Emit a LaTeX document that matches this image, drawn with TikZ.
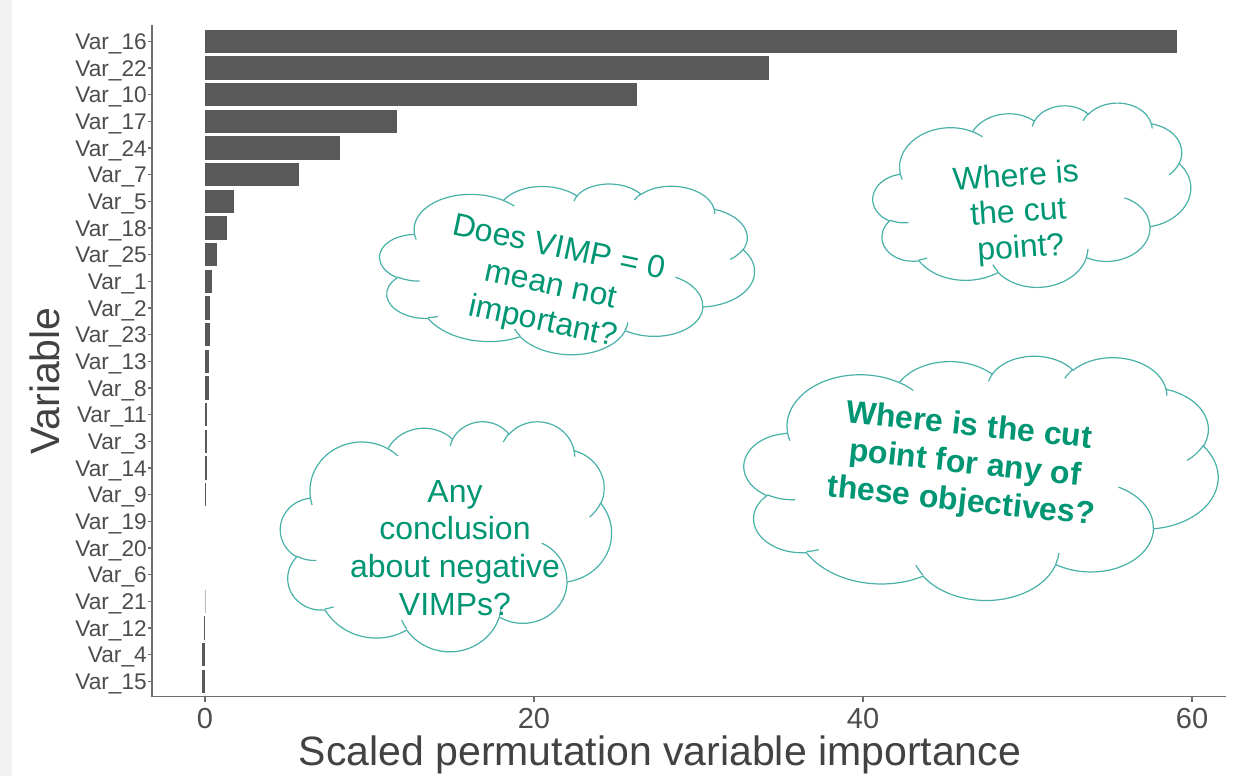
\documentclass[tikz,border=0pt]{standalone}
\usepackage{fontspec}
\setmainfont{Liberation Sans}
\definecolor{barc}{RGB}{89,89,89}
\definecolor{axisc}{RGB}{110,110,110}
\definecolor{axtext}{RGB}{77,77,77}
\definecolor{cloudc}{RGB}{72,178,168}
\definecolor{ctextc}{RGB}{0,150,116}
\definecolor{stripc}{RGB}{242,242,242}
\newcommand\carc[4]{arc[start angle={atan2((#1)*sin(#3),(#2)*cos(#3))}, delta angle={Mod(atan2((#1)*sin((#3)+(#4)),(#2)*cos((#3)+(#4)))-atan2((#1)*sin(#3),(#2)*cos(#3)),360)}, x radius=#1, y radius=#2]}
\newcommand\pptcloud[5]{%
\begin{scope}[shift={(#1,#2)}, rotate=#5, xscale=#3/432, yscale=#4/432, shift={(-216,-216)}]
\draw[cloudedge, fill=white] (39,143.7) \carc{67.53}{91.90}{-190.4875}{123.7805}
 \carc{53.33}{72.67}{-144.1024}{89.9452}
 \carc{43.65}{59.45}{-145.8079}{99.7230}
 \carc{48.57}{65.95}{-130.9861}{117.2417}
 \carc{53.33}{72.73}{-78.7089}{109.0269}
 \carc{67.75}{92.20}{-46.2673}{130.2690}
 \carc{57.85}{78.67}{0.6250}{114.0333}
 \carc{67.52}{92.15}{22.4516}{115.1726}
 \carc{77.20}{105.43}{66.2426}{75.7110}
 \carc{43.60}{59.18}{-274.9421}{146.7356}
 \carc{43.45}{59.45}{-246.8285}{152.5189} -- cycle;
\draw[cloudedge] (46.93,261.77) \carc{43.45}{59.45}{86.7420}{26.4295}
 (69.28,348.99) \carc{43.60}{59.18}{73.6105}{11.4475}
 (164.78,390.90) \carc{67.52}{92.15}{137.6242}{14.0811}
 (288.27,347.51) \carc{67.52}{92.15}{6.4533}{15.9984}
 (341.29,229.54) \carc{57.85}{78.67}{-70.2924}{70.9174}
 (417.98,153.54) \carc{53.33}{72.73}{30.3180}{27.7515}
 (383.24,54.26) \carc{48.57}{65.95}{-13.7443}{14.8589}
 (290.78,39.52) \carc{48.57}{65.95}{-149.1815}{18.1954}
 (221.41,47.20) \carc{43.65}{59.45}{-163.4943}{17.6864}
 (140.00,51.92) \carc{67.53}{91.90}{-66.7070}{12.3194}
 (41.27,157.89) \carc{67.53}{91.90}{157.6544}{11.8582};
\end{scope}}
\tikzset{
  cloudedge/.style={draw=cloudc, line width=0.9pt},
  vlab/.style={anchor=base east, inner sep=0pt, text=axtext, font=\fontsize{17}{17}\selectfont},
  xlab/.style={anchor=base, inner sep=0pt, text=axtext, font=\fontsize{21.75}{22}\selectfont},
  ttl/.style={inner sep=0pt, text=axtext!85!black, font=\fontsize{30.75}{31}\selectfont},
  ctext/.style={anchor=base, inner sep=0pt, text=ctextc, font=\fontsize{24}{28}\selectfont},
  ctextb/.style={ctext, font=\fontsize{24}{28}\selectfont\bfseries},
  axline/.style={draw=axisc, line width=1.1pt},
  barfill/.style={fill=barc}
}
\begin{document}
\begin{tikzpicture}[x=0.75pt,y=-0.75pt]
\useasboundingbox (0,0) rectangle (1233,776);
\fill[white] (0,0) rectangle (1233,776);
\fill[stripc] (0,0) rectangle (12,776);
% bars (right end in px), rows spaced 26.67 px, first centre 41.3
\foreach \xe [count=\i from 0] in {1177,769,637,397,340,299,234,227,217,212,209.5,209.5,208.5,208.5,207,207,206.5,205.8}{
  \fill[barfill] (205,{41.3+26.67*\i-11.7}) rectangle (\xe,{41.3+26.67*\i+11.7});
}
\fill[barc!40!white] (204.6,{41.3+26.67*21-11.7}) rectangle (205.6,{41.3+26.67*21+11.7});
\fill[barfill] (204,{41.3+26.67*22-11.7}) rectangle (205,{41.3+26.67*22+11.7});
\fill[barfill] (201.5,{41.3+26.67*23-11.7}) rectangle (205,{41.3+26.67*23+11.7});
\fill[barfill] (201.5,{41.3+26.67*24-11.7}) rectangle (205,{41.3+26.67*24+11.7});
% axes
\coordinate (ytop) at (152,25);
\coordinate (orig) at (152,696.5);
\coordinate (xend) at (1226,696.5);
\draw[axline] (ytop) -- (orig) -- (xend);
\foreach \v [count=\i from 0] in {16,22,10,17,24,7,5,18,25,1,2,23,13,8,11,3,14,9,19,20,6,21,12,4,15}{
  \draw[axline] (148,{41.3+26.67*\i}) -- (152,{41.3+26.67*\i});
  \node[vlab] (lab\v) at (147,{49.4+26.67*\i}) {Var\_\v};
}
\foreach \t/\xp in {0/205,20/534,40/863,60/1192}{
  \draw[axline] (\xp,696.5) -- (\xp,701.5);
  \node[xlab] (tick\t) at (\xp,728.5) {\t};
}
\node[ttl, anchor=base] (xtitle) at (660,765) {Scaled permutation variable importance};
\node[ttl, anchor=base, rotate=90] (ytitle) at (59,381) {Variable};
% clouds
\pptcloud{567}{268}{375}{172}{-2}
\pptcloud{1032}{197}{318}{180}{3}
\pptcloud{981}{477}{474}{245}{-1}
\pptcloud{446}{536}{331}{230}{0}
% cloud texts
\begin{scope}[shift={(549,294)}, rotate=-12]
\node[ctext, rotate=-12] (c1a) at (0,-37.7) {Does VIMP = 0};
\node[ctext, rotate=-12] (c1b) at (0,0) {mean not};
\node[ctext, rotate=-12] (c1c) at (0,37.7) {important?};
\end{scope}
\begin{scope}[shift={(1019,222)}, rotate=4]
\node[ctext, rotate=4] (c2a) at (0,-36) {Where is};
\node[ctext, rotate=4] (c2b) at (0,0) {the cut};
\node[ctext, rotate=4] (c2c) at (0,36) {point?};
\end{scope}
\begin{scope}[shift={(964,473)}, rotate=-6]
\node[ctextb, rotate=-6] (c3a) at (0,-38) {Where is the cut};
\node[ctextb, rotate=-6] (c3b) at (0,0) {point for any of};
\node[ctextb, rotate=-6] (c3c) at (0,38) {these objectives?};
\end{scope}
\node[ctext] (c4a) at (455,502) {Any};
\node[ctext] (c4b) at (455,539.5) {conclusion};
\node[ctext] (c4c) at (455,577) {about negative};
\node[ctext] (c4d) at (455,615) {VIMPs?};
\end{tikzpicture}
\end{document}
